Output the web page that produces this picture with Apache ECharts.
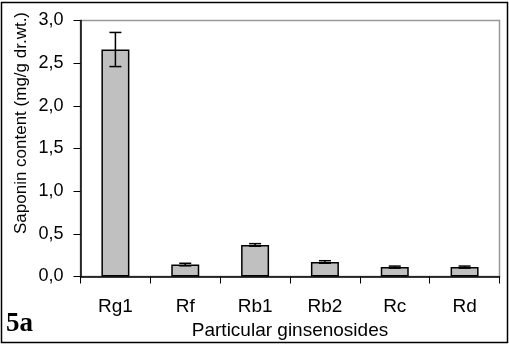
<!DOCTYPE html>
<html>
<head>
<meta charset="utf-8">
<script src="https://cdn.jsdelivr.net/npm/echarts@6/dist/echarts.min.js"></script>
<style>html,body{margin:0;padding:0;background:#fff;}#c{width:509px;height:347px;}</style>
</head>
<body>
<div id="c"></div>
<script>
var categories = ['Rg1', 'Rf', 'Rb1', 'Rb2', 'Rc', 'Rd'];
var values = [2.66, 0.14, 0.37, 0.17, 0.11, 0.11];
var errors = [0.20, 0.015, 0.015, 0.015, 0.012, 0.012];
var yTicks = { min: 0, max: 3, interval: 0.5 };
var yTitle = 'Saponin content (mg/g dr.wt.)';
var xTitle = 'Particular ginsenosides';
var panelLabel = '5a';

var chart = echarts.init(document.getElementById('c'), null, { renderer: 'canvas' });
var errData = values.map(function (v, i) { return [i, v - errors[i], v + errors[i]]; });
chart.setOption({
  animation: false,
  backgroundColor: '#fff',
  grid: { left: 80.5, top: 20.5, right: 9.5, bottom: 70.5, show: true, borderColor: '#999', borderWidth: 1.5, backgroundColor: 'transparent' },
  xAxis: {
    type: 'category', data: categories, boundaryGap: true,
    name: xTitle, nameLocation: 'middle', nameGap: 41,
    nameTextStyle: { fontFamily: 'Liberation Sans', fontSize: 19, color: '#000' },
    axisLine: { lineStyle: { color: '#000', width: 1.5 } },
    axisTick: { show: true, length: 7, lineStyle: { color: '#000', width: 1 } },
    axisLabel: { fontFamily: 'Liberation Sans', fontSize: 19, color: '#000', margin: 21 }
  },
  yAxis: {
    type: 'value', min: yTicks.min, max: yTicks.max, interval: yTicks.interval,
    axisLine: { show: true, lineStyle: { color: '#000', width: 1.5 } },
    axisTick: { show: true, length: 7, lineStyle: { color: '#000', width: 1 } },
    splitLine: { show: false },
    axisLabel: { fontFamily: 'Liberation Sans', fontSize: 18, color: '#000', margin: 17,
      formatter: function (v) { return v.toFixed(1).replace('.', ','); } }
  },
  series: [
    { type: 'bar', data: values, barWidth: 28,
      itemStyle: { color: '#c0c0c0', borderColor: '#000', borderWidth: 1.5 } },
    { type: 'custom', data: errData, z: 10,
      renderItem: function (params, api) {
        var x = api.coord([api.value(0), 0])[0];
        var lo = api.coord([api.value(0), api.value(1)])[1];
        var hi = api.coord([api.value(0), api.value(2)])[1];
        var hw = 6;
        var st = { stroke: '#000', lineWidth: 1.5 };
        return { type: 'group', children: [
          { type: 'line', shape: { x1: x, y1: lo, x2: x, y2: hi }, style: st },
          { type: 'line', shape: { x1: x - hw, y1: hi, x2: x + hw, y2: hi }, style: st },
          { type: 'line', shape: { x1: x - hw, y1: lo, x2: x + hw, y2: lo }, style: st }
        ] };
      }
    }
  ],
  graphic: [
    { type: 'rect', shape: { x: 1.5, y: 2.5, width: 506, height: 340 }, style: { fill: 'none', stroke: '#000', lineWidth: 1.5 }, z: 100 },
    { type: 'text', x: 21, y: 123, rotation: Math.PI / 2,
      style: { text: yTitle, fontFamily: 'Liberation Sans', fontSize: 17, fill: '#000', align: 'center', verticalAlign: 'middle' } },
    { type: 'text', x: 6, y: 338,
      style: { text: panelLabel, fontFamily: 'Liberation Serif', fontWeight: 'bold', fontSize: 27, fill: '#000', align: 'left', verticalAlign: 'bottom' } }
  ]
});
</script>
</body>
</html>
